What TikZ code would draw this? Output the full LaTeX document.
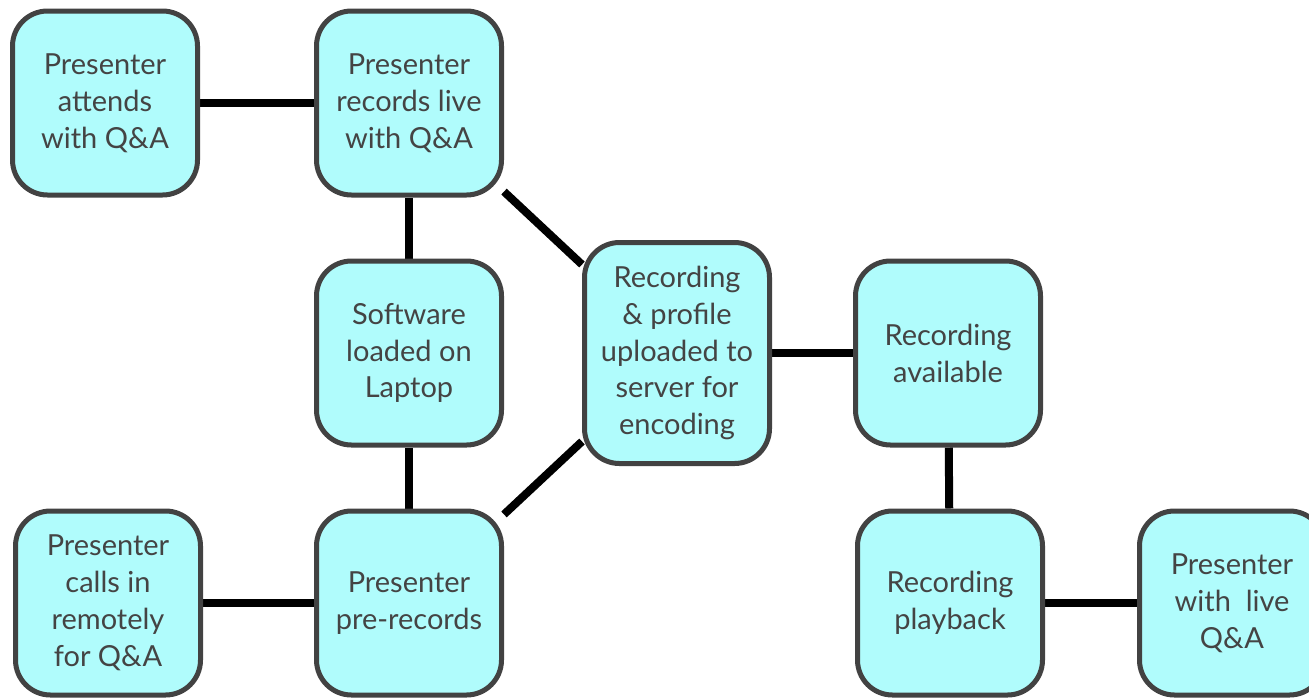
\documentclass[tikz,border=0pt]{standalone}
\usepackage{fontspec}
\setmainfont{Lato}
\usepackage{tikz}
\usetikzlibrary{positioning}
\usetikzlibrary{backgrounds}
\definecolor{boxfill}{RGB}{176,252,252}
\definecolor{boxline}{RGB}{66,66,66}
\definecolor{boxtext}{RGB}{68,68,68}
\tikzset{
stage/.style={ % Sets the properties for each box
rectangle,
rounded corners=0.7cm,
draw=boxline,
line width=0.1cm,
fill=boxfill,
text=boxtext,
align=center,
inner sep=0pt,
minimum width=3.7cm,
minimum height=3.68cm,
font=\fontsize{16.5}{21}\selectfont},
link/.style={ % Sets the properties for each connector
draw,
line width=0.16cm}}

\begin{document}
\begin{tikzpicture}
\useasboundingbox (0,0) rectangle (26.18,-13.96);
\node[stage] (attend) at (2.10,-2.06) {Presenter\\attends\\with Q\&A};
\node[stage] (live) at (8.18,-2.06) {Presenter\\records live\\with Q\&A};
\node[stage] (soft) at (8.18,-7.06) {Software\\loaded on\\Laptop};
\node[stage, minimum height=4.42cm] (upload) at (13.54,-7.06) {Recording\\\& profile\\uploaded to\\server for\\encoding};
\node[stage] (avail) at (18.96,-7.06) {Recording\\available};
\node[stage] (play) at (19.00,-12.06) {Recording\\playback};
\node[stage] (liveqa) at (24.64,-12.06) {Presenter\\with~ live\\Q\&A};
\node[stage] (remote) at (2.16,-12.06) {Presenter\\calls in\\remotely\\for Q\&A};
\node[stage] (prerec) at (8.18,-12.06) {Presenter\\pre-records};
\begin{scope}[on background layer]
\draw[link] (attend) -- (live);
\draw[link] (live) -- (soft);
\draw[link] (live) -- (upload);
\draw[link] (soft) -- (prerec);
\draw[link] (prerec) -- (upload);
\draw[link] (remote) -- (prerec);
\draw[link] (upload) -- (avail);
\draw[link] (avail) -- (play);
\draw[link] (play) -- (liveqa);
\end{scope}
\end{tikzpicture}
\end{document}
